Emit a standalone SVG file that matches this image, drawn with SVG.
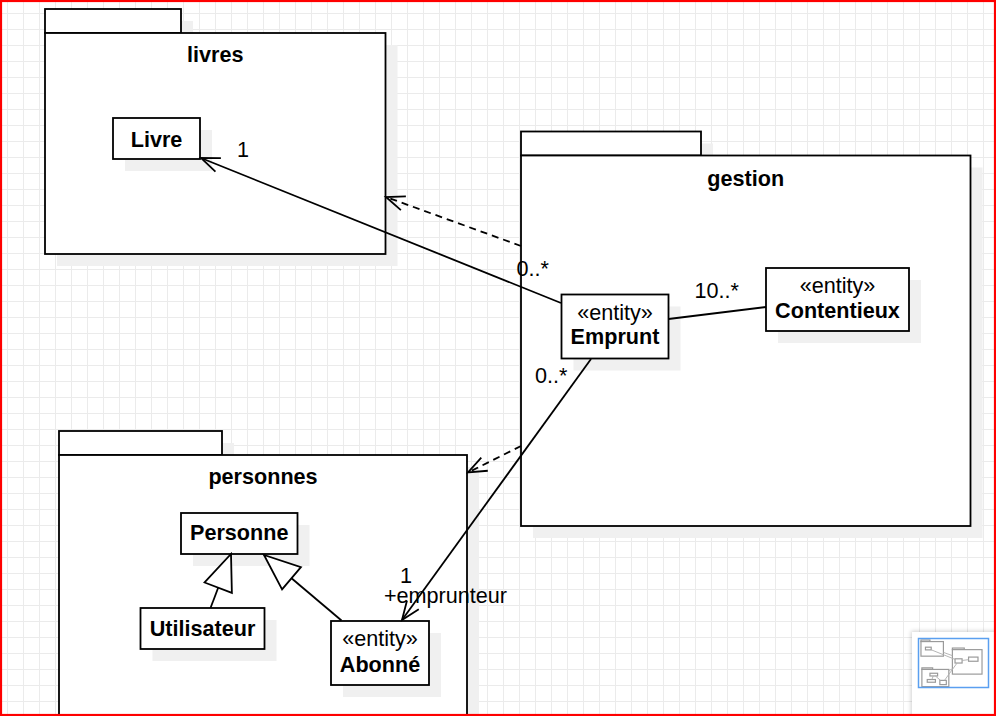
<svg xmlns="http://www.w3.org/2000/svg" width="996" height="716" viewBox="0 0 996 716">
<style>
  .t { font-family: "Liberation Sans", Arial, Helvetica, sans-serif; font-size: 21.6px; fill: #000; }
  .b { font-weight: bold; }
  .m { text-anchor: middle; }
  .box { fill: #fff; stroke: #000; stroke-width: 1.8; }
  .sh { fill: #f0f0f0; stroke: none; }
  .ln { fill: none; stroke: #000; stroke-width: 1.8; }
  .dash { stroke-dasharray: 7 5; }
  .mini { fill: #fff; stroke: #9a9a9a; stroke-width: 18; }
  .minil { fill: none; stroke: #b0b0b0; stroke-width: 14; }
</style>
<defs>
  <pattern id="grid" width="16" height="16" patternUnits="userSpaceOnUse">
    <path d="M7.5,0 V16 M0,13.5 H16" stroke="#ebebeb" stroke-width="1" fill="none"/>
  </pattern>
  <marker id="open" markerUnits="userSpaceOnUse" markerWidth="24" markerHeight="20" viewBox="-2 -10 24 20" refX="19" refY="0" orient="auto">
    <path d="M0.5,-7.3 L19,0 L0.5,7.3" fill="none" stroke="#000" stroke-width="1.8"/>
  </marker>
  <marker id="tri" markerUnits="userSpaceOnUse" markerWidth="42" markerHeight="36" viewBox="-2 -18 42 36" refX="36" refY="0" orient="auto">
    <path d="M0,-14.6 L36,0 L0,14.6 Z" fill="#fff" stroke="#000" stroke-width="1.8"/>
  </marker>
  <filter id="blur" x="-20%" y="-20%" width="140%" height="140%">
    <feGaussianBlur stdDeviation="2"/>
  </filter>
</defs>

<rect x="0" y="0" width="996" height="716" fill="#fff"/>
<rect x="0" y="0" width="996" height="716" fill="url(#grid)"/>

<!-- package livres -->
<g id="pkg-livres">
  <rect class="sh" x="57" y="21" width="136" height="24"/>
  <rect class="sh" x="57" y="45" width="340.5" height="221"/>
  <rect class="box" x="45" y="9" width="136" height="24"/>
  <rect class="box" x="45" y="33" width="340.5" height="221"/>
  <text class="t b m" x="215.25" y="62">livres</text>
</g>

<!-- package gestion -->
<g id="pkg-gestion">
  <rect class="sh" x="533" y="143.5" width="180" height="24"/>
  <rect class="sh" x="533" y="167.5" width="449.5" height="370.5"/>
  <rect class="box" x="521" y="131.5" width="180" height="24"/>
  <rect class="box" x="521" y="155.5" width="449.5" height="370.5"/>
  <text class="t b m" x="745.75" y="186">gestion</text>
</g>

<!-- package personnes -->
<g id="pkg-personnes">
  <rect class="sh" x="71" y="443" width="163" height="24"/>
  <rect class="sh" x="71" y="467" width="408" height="270"/>
  <rect class="box" x="59" y="431" width="163" height="24"/>
  <rect class="box" x="59" y="455" width="408" height="270"/>
  <text class="t b m" x="263" y="484">personnes</text>
</g>

<!-- classes -->
<g id="cls-livre">
  <rect class="sh" x="125" y="130" width="87" height="41"/>
  <rect class="box" x="113" y="118" width="87" height="41"/>
  <text class="t b m" x="156.5" y="147">Livre</text>
</g>

<g id="cls-emprunt">
  <rect class="sh" x="573.5" y="306.5" width="107" height="64"/>
  <rect class="box" x="561.5" y="294.5" width="107" height="64"/>
  <text class="t m" x="615" y="320">«entity»</text>
  <text class="t b m" x="615" y="344">Emprunt</text>
</g>

<g id="cls-contentieux">
  <rect class="sh" x="778" y="280" width="143" height="63"/>
  <rect class="box" x="766" y="268" width="143" height="63"/>
  <text class="t m" x="837.5" y="293">«entity»</text>
  <text class="t b m" x="837.5" y="318">Contentieux</text>
</g>

<g id="cls-personne">
  <rect class="sh" x="193" y="525" width="116.5" height="41"/>
  <rect class="box" x="181" y="513" width="116.5" height="41"/>
  <text class="t b m" x="239.25" y="540">Personne</text>
</g>

<g id="cls-utilisateur">
  <rect class="sh" x="152.5" y="620" width="124" height="41"/>
  <rect class="box" x="140.5" y="608" width="124" height="41"/>
  <text class="t b m" x="202.5" y="636">Utilisateur</text>
</g>

<g id="cls-abonne">
  <rect class="sh" x="343" y="633" width="98" height="64"/>
  <rect class="box" x="331" y="621" width="98" height="64"/>
  <text class="t m" x="380" y="646">«entity»</text>
  <text class="t b m" x="380" y="672">Abonné</text>
</g>

<!-- connectors -->
<g id="connectors">
  <path class="ln" d="M561,303 L201,158" marker-end="url(#open)"/>
  <path class="ln dash" d="M521,246 L386,197" marker-end="url(#open)"/>
  <path class="ln" d="M668.5,319 L766,307"/>
  <path class="ln" d="M591,359 L402,620" marker-end="url(#open)"/>
  <path class="ln dash" d="M521,446 L468,472.5" marker-end="url(#open)"/>
  <path class="ln" d="M210.5,608 L231,554" marker-end="url(#tri)"/>
  <path class="ln" d="M341.5,620.5 L264,555" marker-end="url(#tri)"/>
  <text class="t m" x="243" y="157">1</text>
  <text class="t" x="516.5" y="276">0..*</text>
  <text class="t" x="694.5" y="298">10..*</text>
  <text class="t" x="535" y="383">0..*</text>
  <text class="t m" x="406" y="583">1</text>
  <text class="t" x="384" y="603">+emprunteur</text>
</g>

<!-- outline (minimap) -->
<g id="outline">
  <rect x="911" y="631" width="90" height="90" fill="#000" opacity="0.18" filter="url(#blur)"/>
  <rect x="912" y="632" width="84" height="84" fill="#fff"/>
  <g transform="translate(918,639.4) scale(0.066)">
    <rect class="mini" x="45" y="9" width="136" height="24"/>
    <rect class="mini" x="45" y="33" width="340" height="221"/>
    <rect class="mini" x="113" y="118" width="87" height="41"/>
    <rect class="mini" x="521" y="131" width="180" height="24"/>
    <rect class="mini" x="521" y="155" width="449" height="371"/>
    <rect class="mini" x="561" y="294" width="107" height="64"/>
    <rect class="mini" x="766" y="268" width="143" height="63"/>
    <rect class="mini" x="59" y="431" width="163" height="24"/>
    <rect class="mini" x="59" y="455" width="408" height="261"/>
    <rect class="mini" x="181" y="513" width="116" height="41"/>
    <rect class="mini" x="140" y="608" width="124" height="41"/>
    <rect class="mini" x="331" y="621" width="98" height="64"/>
    <path class="minil" d="M561,303 L201,158 M521,246 L386,197 M668,319 L766,307 M591,359 L402,620 M521,446 L468,472 M210,608 L231,554 M341,620 L264,555"/>
  </g>
  <rect x="918.5" y="638.5" width="70" height="49" fill="none" stroke="#5a9ff0" stroke-width="1.5"/>
</g>

<rect x="1" y="1" width="994" height="714" fill="none" stroke="#ff0000" stroke-width="2.2"/>
</svg>
